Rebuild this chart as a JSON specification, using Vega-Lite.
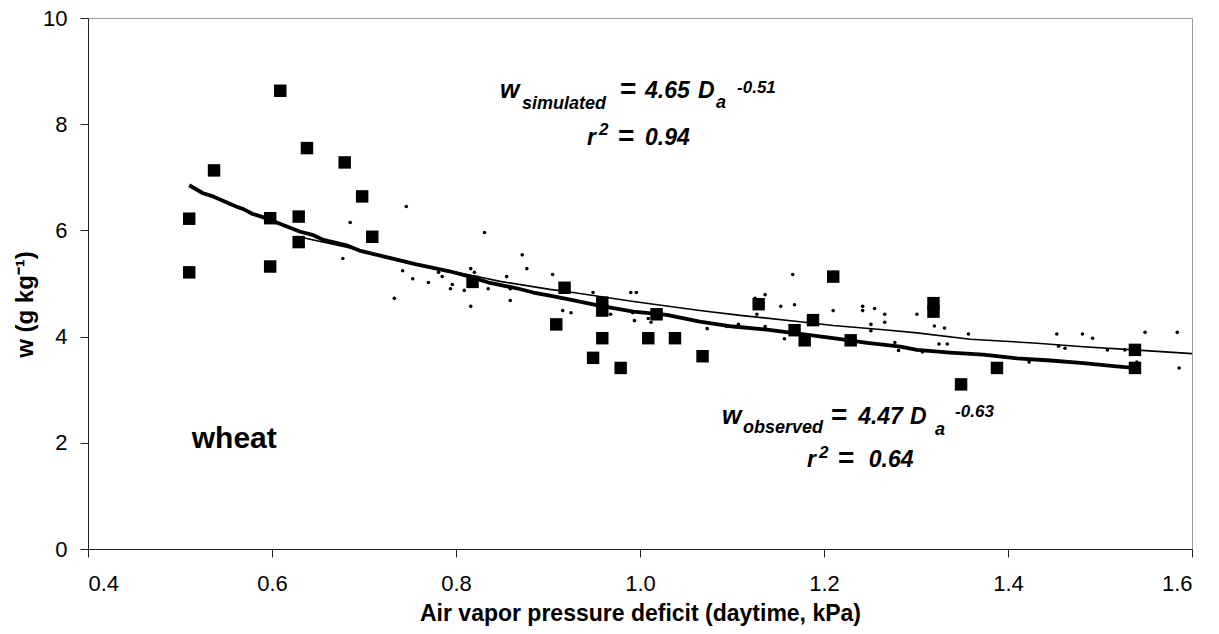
{
  "$schema": "https://vega.github.io/schema/vega-lite/v6.json",
  "width": 1104,
  "height": 531,
  "autosize": {"type": "none"},
  "padding": {"left": 88, "top": 18, "right": 27, "bottom": 85},
  "background": "white",
  "config": {
    "view": {"stroke": "#999999", "strokeWidth": 1},
    "font": "Liberation Sans",
    "axis": {"grid": false, "domainColor": "#222222", "tickColor": "#222222", "labelColor": "#000000", "titleColor": "#000000", "labelFont": "Liberation Sans", "titleFont": "Liberation Sans"}
  },
  "datasets": {
    "obs": [
      {"x": 0.51, "y": 6.22}, {"x": 0.51, "y": 5.21}, {"x": 0.537, "y": 7.13}, {"x": 0.598, "y": 6.23},
      {"x": 0.598, "y": 5.32}, {"x": 0.609, "y": 8.63}, {"x": 0.629, "y": 6.26}, {"x": 0.629, "y": 5.78},
      {"x": 0.638, "y": 7.55}, {"x": 0.679, "y": 7.28}, {"x": 0.698, "y": 6.64}, {"x": 0.709, "y": 5.88},
      {"x": 0.818, "y": 5.03}, {"x": 0.909, "y": 4.23}, {"x": 0.918, "y": 4.92}, {"x": 0.949, "y": 3.6},
      {"x": 0.959, "y": 4.64}, {"x": 0.959, "y": 4.49}, {"x": 0.959, "y": 3.97}, {"x": 0.979, "y": 3.41},
      {"x": 1.009, "y": 3.97}, {"x": 1.018, "y": 4.42}, {"x": 1.038, "y": 3.97}, {"x": 1.068, "y": 3.63},
      {"x": 1.129, "y": 4.61}, {"x": 1.168, "y": 4.12}, {"x": 1.179, "y": 3.93}, {"x": 1.188, "y": 4.31},
      {"x": 1.21, "y": 5.13}, {"x": 1.229, "y": 3.93}, {"x": 1.319, "y": 4.63}, {"x": 1.319, "y": 4.47},
      {"x": 1.349, "y": 3.1}, {"x": 1.388, "y": 3.41}, {"x": 1.538, "y": 3.75}, {"x": 1.538, "y": 3.41}
    ],
    "sim": [
      {"x": 0.677, "y": 5.47}, {"x": 0.685, "y": 6.15}, {"x": 0.733, "y": 4.72}, {"x": 0.742, "y": 5.24},
      {"x": 0.746, "y": 6.45}, {"x": 0.753, "y": 5.09}, {"x": 0.77, "y": 5.02}, {"x": 0.781, "y": 5.21},
      {"x": 0.785, "y": 5.13}, {"x": 0.794, "y": 4.9}, {"x": 0.796, "y": 4.98}, {"x": 0.809, "y": 4.87},
      {"x": 0.816, "y": 5.28}, {"x": 0.816, "y": 4.57}, {"x": 0.82, "y": 5.21}, {"x": 0.831, "y": 5.96},
      {"x": 0.835, "y": 4.9}, {"x": 0.855, "y": 5.13}, {"x": 0.859, "y": 4.68}, {"x": 0.859, "y": 4.9},
      {"x": 0.872, "y": 5.54}, {"x": 0.877, "y": 5.28}, {"x": 0.905, "y": 5.17}, {"x": 0.916, "y": 4.49},
      {"x": 0.925, "y": 4.45}, {"x": 0.949, "y": 4.83}, {"x": 0.968, "y": 4.42}, {"x": 0.99, "y": 4.83},
      {"x": 0.996, "y": 4.83}, {"x": 0.992, "y": 4.45}, {"x": 0.994, "y": 4.3}, {"x": 1.009, "y": 4.34},
      {"x": 1.012, "y": 4.27}, {"x": 1.073, "y": 4.15}, {"x": 1.094, "y": 4.19}, {"x": 1.107, "y": 4.23},
      {"x": 1.125, "y": 4.72}, {"x": 1.127, "y": 4.42}, {"x": 1.136, "y": 4.79}, {"x": 1.136, "y": 4.19},
      {"x": 1.153, "y": 4.57}, {"x": 1.157, "y": 3.96}, {"x": 1.166, "y": 5.17}, {"x": 1.168, "y": 4.6},
      {"x": 1.21, "y": 4.49}, {"x": 1.242, "y": 4.57}, {"x": 1.242, "y": 4.49}, {"x": 1.251, "y": 4.23},
      {"x": 1.251, "y": 4.11}, {"x": 1.255, "y": 4.53}, {"x": 1.266, "y": 4.42}, {"x": 1.266, "y": 4.27},
      {"x": 1.277, "y": 3.89}, {"x": 1.281, "y": 3.74}, {"x": 1.301, "y": 4.42}, {"x": 1.307, "y": 3.71},
      {"x": 1.32, "y": 4.2}, {"x": 1.325, "y": 3.86}, {"x": 1.331, "y": 4.16}, {"x": 1.334, "y": 3.86},
      {"x": 1.357, "y": 4.05}, {"x": 1.423, "y": 3.52}, {"x": 1.453, "y": 4.05}, {"x": 1.455, "y": 3.82},
      {"x": 1.462, "y": 3.78}, {"x": 1.481, "y": 4.05}, {"x": 1.492, "y": 3.97}, {"x": 1.508, "y": 3.75},
      {"x": 1.527, "y": 3.75}, {"x": 1.54, "y": 3.52}, {"x": 1.549, "y": 4.08}, {"x": 1.584, "y": 4.08},
      {"x": 1.586, "y": 3.41}
    ],
    "simfit": [
      {"x": 0.629, "y": 5.88}, {"x": 0.685, "y": 5.67}, {"x": 0.746, "y": 5.39}, {"x": 0.815, "y": 5.16},
      {"x": 0.848, "y": 5.04}, {"x": 0.902, "y": 4.89}, {"x": 0.92, "y": 4.85}, {"x": 0.993, "y": 4.66},
      {"x": 1.065, "y": 4.49}, {"x": 1.109, "y": 4.4}, {"x": 1.174, "y": 4.28}, {"x": 1.21, "y": 4.21},
      {"x": 1.265, "y": 4.13}, {"x": 1.301, "y": 4.07}, {"x": 1.359, "y": 3.95}, {"x": 1.428, "y": 3.88},
      {"x": 1.482, "y": 3.81}, {"x": 1.537, "y": 3.75}, {"x": 1.6, "y": 3.68}
    ],
    "obsfit": [
      {"x": 0.51, "y": 6.85}, {"x": 0.525, "y": 6.7}, {"x": 0.536, "y": 6.64}, {"x": 0.561, "y": 6.45},
      {"x": 0.569, "y": 6.4}, {"x": 0.579, "y": 6.31}, {"x": 0.59, "y": 6.25}, {"x": 0.612, "y": 6.1},
      {"x": 0.63, "y": 5.98}, {"x": 0.645, "y": 5.91}, {"x": 0.656, "y": 5.82}, {"x": 0.681, "y": 5.72},
      {"x": 0.695, "y": 5.62}, {"x": 0.721, "y": 5.51}, {"x": 0.757, "y": 5.36}, {"x": 0.793, "y": 5.23},
      {"x": 0.815, "y": 5.13}, {"x": 0.837, "y": 5.01}, {"x": 0.866, "y": 4.91}, {"x": 0.884, "y": 4.83},
      {"x": 0.902, "y": 4.77}, {"x": 0.92, "y": 4.71}, {"x": 0.957, "y": 4.58}, {"x": 0.993, "y": 4.47},
      {"x": 1.029, "y": 4.41}, {"x": 1.065, "y": 4.28}, {"x": 1.101, "y": 4.19}, {"x": 1.138, "y": 4.13},
      {"x": 1.174, "y": 4.05}, {"x": 1.21, "y": 3.97}, {"x": 1.247, "y": 3.88}, {"x": 1.283, "y": 3.81},
      {"x": 1.301, "y": 3.75}, {"x": 1.337, "y": 3.7}, {"x": 1.373, "y": 3.66}, {"x": 1.41, "y": 3.59},
      {"x": 1.446, "y": 3.55}, {"x": 1.482, "y": 3.5}, {"x": 1.518, "y": 3.44}, {"x": 1.537, "y": 3.41}
    ],
    "notes": [
      {"x": 0.8478, "y": 8.49, "t": "w", "role": "big"},
      {"x": 0.8717, "y": 8.283, "t": "simulated", "role": "sub"},
      {"x": 0.9783, "y": 8.49, "t": "=", "role": "eq"},
      {"x": 1.0054, "y": 8.49, "t": "4.65", "role": "main"},
      {"x": 1.0631, "y": 8.49, "t": "D", "role": "main"},
      {"x": 1.0827, "y": 8.302, "t": "a", "role": "sub"},
      {"x": 1.1055, "y": 8.585, "t": "-0.51", "role": "sup"},
      {"x": 0.9424, "y": 7.61, "t": "r", "role": "main"},
      {"x": 0.9554, "y": 7.798, "t": "2", "role": "sup"},
      {"x": 0.9761, "y": 7.61, "t": "=", "role": "eq"},
      {"x": 1.0054, "y": 7.61, "t": "0.94", "role": "main"},
      {"x": 1.089, "y": 2.359, "t": "w", "role": "big"},
      {"x": 1.1119, "y": 2.189, "t": "observed", "role": "sub"},
      {"x": 1.2077, "y": 2.359, "t": "=", "role": "eq"},
      {"x": 1.2371, "y": 2.359, "t": "4.47", "role": "main"},
      {"x": 1.2935, "y": 2.359, "t": "D", "role": "main"},
      {"x": 1.3207, "y": 2.151, "t": "a", "role": "sub"},
      {"x": 1.3425, "y": 2.49, "t": "-0.63", "role": "sup"},
      {"x": 1.1816, "y": 1.549, "t": "r", "role": "main"},
      {"x": 1.1946, "y": 1.718, "t": "2", "role": "sup"},
      {"x": 1.2153, "y": 1.549, "t": "=", "role": "eq"},
      {"x": 1.2487, "y": 1.549, "t": "0.64", "role": "main"},
      {"x": 0.5128, "y": 1.907, "t": "wheat", "role": "wheat"}
    ]
  },
  "encoding": {
    "x": {
      "field": "x", "type": "quantitative",
      "scale": {"domain": [0.4, 1.6], "nice": false, "zero": false},
      "axis": {
        "values": [0.4, 0.6, 0.8, 1.0, 1.2, 1.4, 1.6], "format": ".1f",
        "labelFontSize": 22, "labelPadding": 33, "labelBaseline": "alphabetic", "tickSize": 8,
        "title": "Air vapor pressure deficit (daytime, kPa)", "titleFontSize": 23, "titleFontWeight": "bold",
        "titleX": 552, "titleY": 71, "titleBaseline": "alphabetic", "titleAlign": "center"
      }
    },
    "y": {
      "field": "y", "type": "quantitative",
      "scale": {"domain": [0, 10], "nice": false, "zero": true},
      "axis": {
        "values": [0, 2, 4, 6, 8, 10], "format": "d",
        "labelFontSize": 22, "labelPadding": 13, "tickSize": 8,
        "title": "w (g  kg⁻¹)", "titleFontSize": 24, "titleFontWeight": "bold",
        "titleAngle": 270, "titleX": -63, "titleY": 286, "titleAlign": "center", "titleBaseline": "middle"
      }
    }
  },
  "layer": [
    {"data": {"name": "sim"}, "mark": {"type": "point", "shape": "circle", "filled": true, "color": "#000000", "size": 13, "opacity": 1}},
    {"data": {"name": "simfit"}, "mark": {"type": "line", "color": "#000000", "strokeWidth": 1.6}},
    {"data": {"name": "obsfit"}, "mark": {"type": "line", "color": "#000000", "strokeWidth": 3.8, "strokeJoin": "round"}},
    {"data": {"name": "obs"}, "mark": {"type": "point", "shape": "square", "filled": true, "color": "#000000", "size": 155, "opacity": 1}},
    {"data": {"name": "notes"}, "transform": [{"filter": "datum.role === 'big'"}],
     "mark": {"type": "text", "align": "left", "baseline": "alphabetic", "fontSize": 25, "fontWeight": "bold", "fontStyle": "italic", "color": "#000000"},
     "encoding": {"text": {"field": "t"}}},
    {"data": {"name": "notes"}, "transform": [{"filter": "datum.role === 'main'"}],
     "mark": {"type": "text", "align": "left", "baseline": "alphabetic", "fontSize": 23, "fontWeight": "bold", "fontStyle": "italic", "color": "#000000"},
     "encoding": {"text": {"field": "t"}}},
    {"data": {"name": "notes"}, "transform": [{"filter": "datum.role === 'eq'"}],
     "mark": {"type": "text", "align": "left", "baseline": "alphabetic", "fontSize": 28, "fontWeight": "bold", "color": "#000000"},
     "encoding": {"text": {"field": "t"}}},
    {"data": {"name": "notes"}, "transform": [{"filter": "datum.role === 'sub'"}],
     "mark": {"type": "text", "align": "left", "baseline": "alphabetic", "fontSize": 18, "fontWeight": "bold", "fontStyle": "italic", "color": "#000000"},
     "encoding": {"text": {"field": "t"}}},
    {"data": {"name": "notes"}, "transform": [{"filter": "datum.role === 'sup'"}],
     "mark": {"type": "text", "align": "left", "baseline": "alphabetic", "fontSize": 17, "fontWeight": "bold", "fontStyle": "italic", "color": "#000000"},
     "encoding": {"text": {"field": "t"}}},
    {"data": {"name": "notes"}, "transform": [{"filter": "datum.role === 'wheat'"}],
     "mark": {"type": "text", "align": "left", "baseline": "alphabetic", "fontSize": 30, "fontWeight": "bold", "color": "#000000"},
     "encoding": {"text": {"field": "t"}}}
  ]
}
